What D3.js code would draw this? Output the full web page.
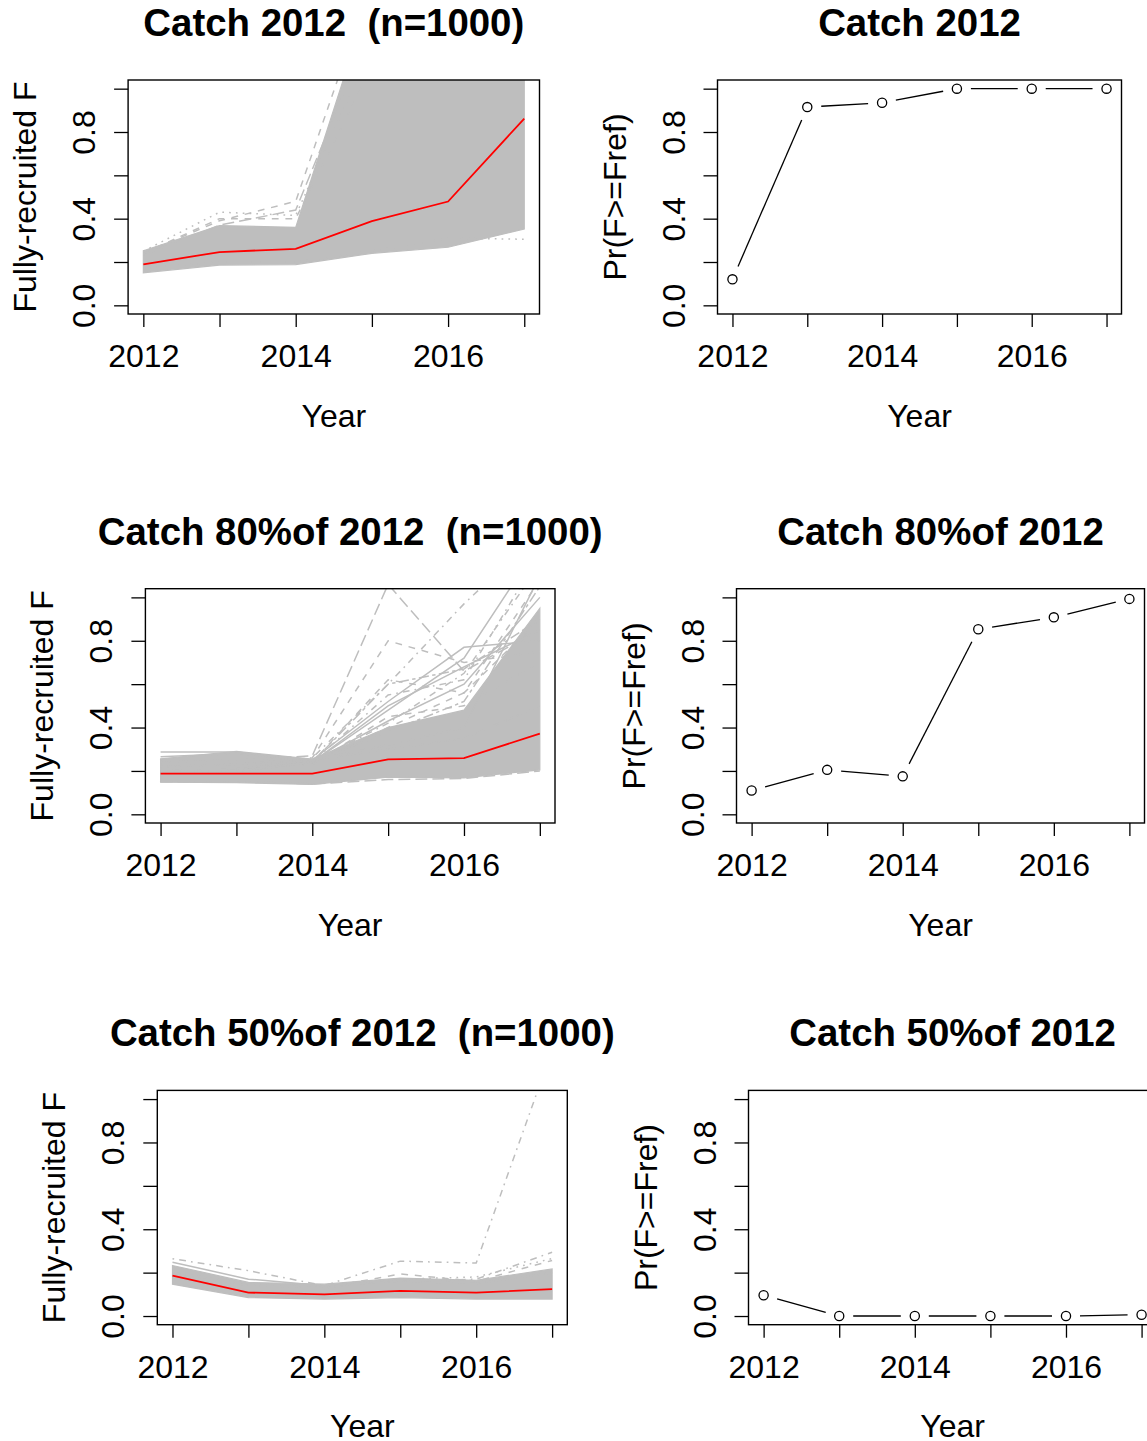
<!DOCTYPE html>
<html>
<head>
<meta charset="utf-8">
<script src="https://cdn.jsdelivr.net/npm/d3@7"></script>
<style>
  html, body { margin: 0; padding: 0; background: #fff; }
  svg { display: block; }
  text { font-family: "Liberation Sans", Arial, Helvetica, sans-serif; fill: #000; white-space: pre; }
</style>
</head>
<body>
<div id="chart"></div>
<script>
// ---------------- DATA ----------------
const years = [2012, 2013, 2014, 2015, 2016, 2017];
const xTickLabels = { 2012: "2012", 2014: "2014", 2016: "2016" };
const yTicks = [0, 0.2, 0.4, 0.6, 0.8, 1.0];
const yTickLabels = { 0: "0.0", 0.4: "0.4", 0.8: "0.8" };

// titles split where the reference sets "%" tight against "of"
const titleHeads = ["Catch 2012  (n=1000)", "Catch 2012",
                    "Catch 80%", "Catch 80%",
                    "Catch 50%", "Catch 50%"];
const titleTails = ["", "",
                    " of 2012  (n=1000)", " of 2012",
                    " of 2012  (n=1000)", " of 2012"];
const yLabelF = "Fully-recruited F";
const yLabelPr = "Pr(F>=Fref)";
const xLabel = "Year";

// Catch 2012: median F, envelope of the 1000 runs, visible outlying runs
const c100Median = [0.189, 0.246, 0.261, 0.389, 0.479, 0.862];
const c100Low    = [0.150, 0.186, 0.188, 0.240, 0.268, 0.352];
const c100High   = [0.252, 0.368, 0.360, 1.450, 1.600, 1.600];
const c100Out1 = [0.250, 0.430, 0.415, 1.200, 1.500, 1.500];
const c100Out2 = [0.240, 0.390, 0.480, 1.500, 1.500, 1.500];
const c100Out3 = [0.230, 0.370, 0.440, 1.300, 1.200, 1.400];
const c100Out4 = [0.170, 0.200, 0.200, 0.250, 0.310, 0.305];
const c100Out5 = [0.240, 0.400, 0.400, 1.100, 1.300, 1.400];

// Catch 80% of 2012
const c80Median = [0.188, 0.188, 0.188, 0.253, 0.259, 0.372];
const c80Low    = [0.148, 0.146, 0.138, 0.171, 0.168, 0.205];
const c80High   = [0.256, 0.290, 0.255, 0.400, 0.480, 0.950];
const c80Out1 = [0.240, 0.250, 0.270, 1.060, 0.660, 0.850];
const c80Out2 = [0.220, 0.230, 0.260, 0.600, 0.970, 1.300];
const c80Out3 = [0.220, 0.230, 0.260, 0.800, 0.700, 0.750];
const c80Out4 = [0.200, 0.210, 0.250, 0.520, 0.770, 0.800];
const c80Out5 = [0.200, 0.210, 0.240, 0.500, 0.680, 0.850];
const c80Out6 = [0.200, 0.200, 0.240, 0.600, 0.670, 0.900];
const c80Out7 = [0.190, 0.200, 0.230, 0.450, 0.500, 0.700];
const c80Out8 = [0.200, 0.200, 0.240, 0.550, 0.620, 1.200];
const c80Out9 = [0.287, 0.287, 0.250, 0.300, 0.350, 0.500];
const c80Out10 = [0.265, 0.280, 0.250, 0.320, 0.400, 1.100];
const c80Out11 = [0.150, 0.150, 0.140, 0.160, 0.165, 0.200];
const c80Out12 = [0.200, 0.200, 0.240, 0.480, 0.720, 1.250];
const c80Out13 = [0.200, 0.200, 0.240, 0.420, 0.650, 1.150];
const c80Out14 = [0.200, 0.200, 0.240, 0.400, 0.560, 1.080];
const c80Out15 = [0.200, 0.200, 0.240, 0.430, 0.600, 1.000];
const c80Out16 = [0.200, 0.200, 0.240, 0.380, 0.520, 1.050];
const c80Out17 = [0.200, 0.200, 0.240, 0.620, 0.560, 0.900];

// Catch 50% of 2012
const c50Median = [0.186, 0.108, 0.100, 0.116, 0.108, 0.124];
const c50Low    = [0.147, 0.085, 0.078, 0.085, 0.078, 0.078];
const c50High   = [0.233, 0.155, 0.147, 0.175, 0.165, 0.217];
const c50Out1 = [0.264, 0.209, 0.140, 0.253, 0.244, 1.225];
const c50Out2 = [0.248, 0.170, 0.140, 0.160, 0.150, 0.200];
const c50Out3 = [0.200, 0.150, 0.140, 0.160, 0.170, 0.294];
const c50Out4 = [0.200, 0.140, 0.130, 0.194, 0.160, 0.256];
const c50Out5 = [0.200, 0.140, 0.130, 0.170, 0.180, 0.265];

// Probability F >= Fref
const prCatch100 = [0.120, 0.915, 0.935, 1.000, 1.000, 1.000];
const prCatch80  = [0.110, 0.205, 0.175, 0.853, 0.908, 0.993];
const prCatch50  = [0.096, 0.000, 0.000, 0.000, 0.000, 0.006];

// ---------------- DRAWING ----------------
const W = 1147, H = 1441;
const FONT = 32, TITLE_FONT = 38.4;
const GRAY = "#BEBEBE";
const U = 1.7; // dash unit
const lty = {
  1: null,
  2: [4, 4], 3: [1, 3], 4: [1, 3, 4, 3], 5: [7, 3], 6: [2, 2, 6, 2]
};
const dash = k => lty[k] ? lty[k].map(v => v * U).join(",") : null;

const panels = [
  { box: [128.1, 539.5, 80, 314], type: "spag", ylab: yLabelF,
    med: c100Median, lo: c100Low, hi: c100High,
    out: [c100Out1, c100Out2, c100Out3, c100Out4, c100Out5], outLty: [3, 2, 5, 3, 2] },
  { box: [717.5, 1121.5, 80, 314], type: "prob", ylab: yLabelPr, vals: prCatch100 },
  { box: [145.4, 555.0, 588.7, 823], type: "spag", ylab: yLabelF,
    med: c80Median, lo: c80Low, hi: c80High,
    out: [c80Out1, c80Out2, c80Out3, c80Out4, c80Out5, c80Out6, c80Out7, c80Out8, c80Out9,
          c80Out10, c80Out11, c80Out12, c80Out13, c80Out14, c80Out15, c80Out16, c80Out17],
    outLty: [5, 4, 2, 1, 1, 6, 2, 4, 1, 1, 5, 1, 4, 2, 1, 6, 2] },
  { box: [736.5, 1144.5, 588.7, 823], type: "prob", ylab: yLabelPr, vals: prCatch80 },
  { box: [157.3, 567.3, 1090.4, 1324.7], type: "spag", ylab: yLabelF,
    med: c50Median, lo: c50Low, hi: c50High,
    out: [c50Out1, c50Out2, c50Out3, c50Out4, c50Out5], outLty: [4, 1, 4, 2, 3] },
  { box: [748.5, 1156.7, 1090.4, 1324.7], type: "prob", ylab: yLabelPr, vals: prCatch50 }
];

const svg = d3.select("#chart").append("svg")
  .attr("width", W).attr("height", H).attr("viewBox", `0 0 ${W} ${H}`);
svg.append("rect").attr("width", W).attr("height", H).attr("fill", "#fff");

panels.forEach((p, i) => {
  const [x0, x1, y0, y1] = p.box;
  const x = d3.scaleLinear().domain([2011.8, 2017.2]).range([x0, x1]);
  const y = d3.scaleLinear().domain([-0.04, 1.04]).range([y1, y0]);
  const g = svg.append("g");

  const clipId = "clip" + i;
  svg.append("clipPath").attr("id", clipId)
    .append("rect").attr("x", x0).attr("y", y0).attr("width", x1 - x0).attr("height", y1 - y0);
  const plot = g.append("g").attr("clip-path", `url(#${clipId})`);

  if (p.type === "spag") {
    const area = d3.area()
      .x((d, k) => x(years[k]))
      .y0((d, k) => y(p.lo[k]))
      .y1((d, k) => y(p.hi[k]));
    plot.append("path").datum(p.lo).attr("d", area)
      .attr("fill", GRAY).attr("stroke", GRAY).attr("stroke-width", 1.2);
    const line = d3.line().x((d, k) => x(years[k])).y(d => y(d));
    p.out.forEach((vals, k) => {
      plot.append("path").datum(vals).attr("d", line)
        .attr("fill", "none").attr("stroke", GRAY).attr("stroke-width", 1.5)
        .attr("stroke-dasharray", dash(p.outLty[k]));
    });
    plot.append("path").datum(p.med).attr("d", line)
      .attr("fill", "none").attr("stroke", "#FF0000").attr("stroke-width", 1.8);
  } else {
    const pts = p.vals.map((v, k) => [x(years[k]), y(v)]);
    const gap = 14;
    for (let k = 0; k < pts.length - 1; k++) {
      const [ax, ay] = pts[k], [bx, by] = pts[k + 1];
      const dx = bx - ax, dy = by - ay, L = Math.hypot(dx, dy);
      if (L <= 2 * gap) continue;
      const ux = dx / L, uy = dy / L;
      g.append("line")
        .attr("x1", ax + ux * gap).attr("y1", ay + uy * gap)
        .attr("x2", bx - ux * gap).attr("y2", by - uy * gap)
        .attr("stroke", "#000").attr("stroke-width", 1.3);
    }
    g.selectAll("circle.pt").data(p.vals).enter().append("circle")
      .attr("cx", (d, k) => x(years[k])).attr("cy", d => y(d))
      .attr("r", 4.6).attr("fill", "none").attr("stroke", "#000").attr("stroke-width", 1.3);
  }

  // box
  g.append("rect").attr("x", x0).attr("y", y0).attr("width", x1 - x0).attr("height", y1 - y0)
    .attr("fill", "none").attr("stroke", "#000").attr("stroke-width", 1.4);

  // x axis
  const xa = g.append("g").attr("transform", `translate(0,${y1})`)
    .call(d3.axisBottom(x).tickValues(years).tickSize(13).tickPadding(17.3)
      .tickFormat(d => xTickLabels[d] || ""));
  xa.select(".domain").remove();
  xa.selectAll(".tick line").attr("stroke", "#000").attr("stroke-width", 1.3);
  xa.selectAll(".tick text").attr("font-size", FONT).attr("fill", "#000")
    .attr("font-family", '"Liberation Sans", Arial, sans-serif');

  // y axis
  const ya = g.append("g").attr("transform", `translate(${x0},0)`)
    .call(d3.axisLeft(y).tickValues(yTicks).tickSize(14)
      .tickFormat(d => { const key = Math.round(d * 10) / 10; return yTickLabels[key] || ""; }));
  ya.select(".domain").remove();
  ya.selectAll(".tick line").attr("stroke", "#000").attr("stroke-width", 1.3);
  ya.selectAll(".tick text")
    .attr("x", null).attr("dy", null)
    .attr("transform", "translate(-33,0) rotate(-90)")
    .attr("text-anchor", "middle")
    .attr("font-size", FONT).attr("fill", "#000")
    .attr("font-family", '"Liberation Sans", Arial, sans-serif');

  const cx = (x0 + x1) / 2, cy = (y0 + y1) / 2;
  // title
  const t = g.append("text").attr("x", cx).attr("y", y0 - 44).attr("text-anchor", "middle")
    .attr("font-size", TITLE_FONT).attr("font-weight", "bold");
  t.append("tspan").text(titleHeads[i]);
  if (titleTails[i]) t.append("tspan").attr("dx", -10.5).text(titleTails[i]);
  // x label
  g.append("text").attr("x", cx).attr("y", y1 + 112.7).attr("text-anchor", "middle")
    .attr("font-size", FONT).text(xLabel);
  // y label
  g.append("text").attr("transform", `translate(${x0 - 92},${cy}) rotate(-90)`)
    .attr("text-anchor", "middle").attr("font-size", FONT).text(p.ylab);
});
</script>
</body>
</html>
